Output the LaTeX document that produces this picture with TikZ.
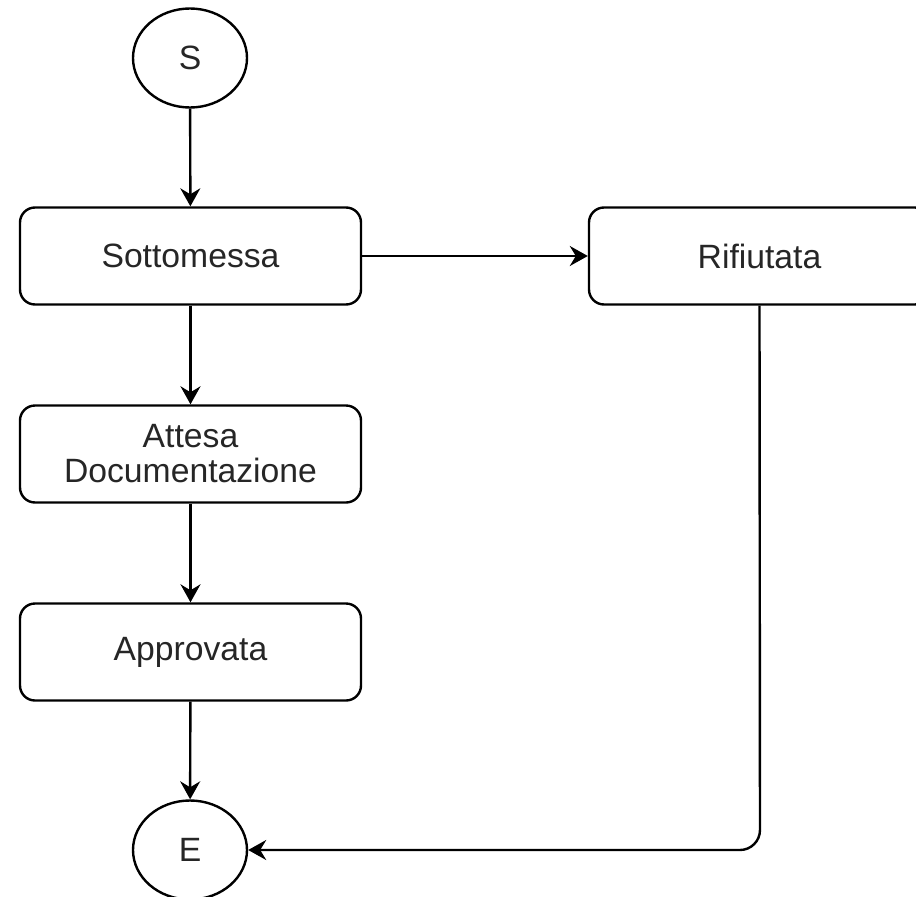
\documentclass[tikz,border=0pt]{standalone}
\usepackage{fontspec}
\setmainfont{Liberation Sans}
\usetikzlibrary{shapes.geometric,arrows.meta}
\begin{document}
\begin{tikzpicture}[x=1pt,y=-1pt,
  every node/.style={font=\fontsize{33.7}{35}\selectfont, text=black!85},
  statebox/.style={draw, line width=2.4pt, rounded corners=15pt, minimum width=341pt, minimum height=97pt, inner sep=0pt, align=center},
  endpoint/.style={draw, line width=2.4pt, ellipse, minimum width=114pt, minimum height=99pt, inner sep=0pt},
  conn/.style={line width=2.4pt, -{Stealth[length=18pt,width=20pt,inset=6pt]}}
]
\useasboundingbox (0,0) rectangle (916,897);
\node[endpoint] (s) at (190,58) {S};
\node[statebox] (sott) at (190.5,256) {Sottomessa};
\node[statebox] (rif) at (759.5,256) {Rifiutata};
\node[statebox] (att) at (190.5,454) {Attesa\\Documentazione};
\node[statebox] (app) at (190.5,652) {Approvata};
\node[endpoint] (e) at (190,850) {E};
\coordinate (corner) at (760,850);
\draw[conn] (s) -- (sott);
\draw[conn] (sott) -- (rif);
\draw[conn] (sott) -- (att);
\draw[conn] (att) -- (app);
\draw[conn] (app) -- (e);
\draw[conn, rounded corners=20pt] (rif.south) -- (corner) -- (e.east);
\end{tikzpicture}
\end{document}
